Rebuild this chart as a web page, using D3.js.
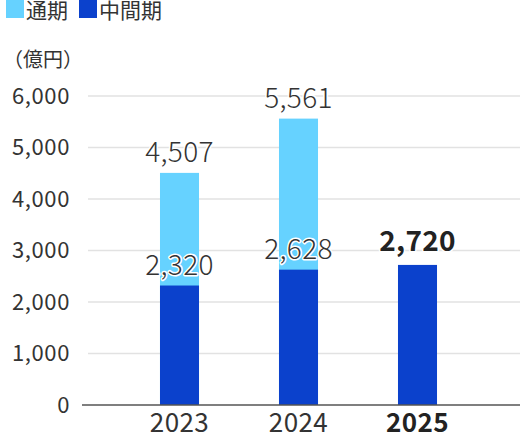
<!DOCTYPE html>
<html><head><meta charset="utf-8">
<script src="https://cdn.jsdelivr.net/npm/d3@7"></script>
<style>body{margin:0;background:#fff}svg{display:block}</style>
</head><body>
<svg id="c" width="520" height="440"></svg>
<script>
const years = ["2023", "2024", "2025"];
const fullYear = [4507, 5561, null];
const interim = [2320, 2628, 2720];
const yTicks = [0, 1000, 2000, 3000, 4000, 5000, 6000];
const legendLabels = ["通期", "中間期"];
const unitLabel = "（億円）";

const C_LIGHT = "#66d2ff", C_DARK = "#0b41cc";
const FONT = "'Noto Sans CJK JP','Noto Sans',sans-serif";
const svg = d3.select("#c");
const x = d3.scaleBand().domain(years).range([120, 477]).paddingInner(0.672).paddingOuter(0.336);
const y = d3.scaleLinear().domain([0, 6000]).range([405, 96]);

// gridlines
svg.append("g").selectAll("line").data(yTicks.filter(d => d > 0)).join("line")
  .attr("x1", 88).attr("x2", 520).attr("y1", d => y(d)).attr("y2", d => y(d))
  .attr("stroke", "#e2e2e2").attr("stroke-width", 1.5);

// y tick labels
svg.append("g").selectAll("text").data(yTicks).join("text")
  .attr("x", 70).attr("y", d => y(d)).attr("dy", "0.36em")
  .attr("text-anchor", "end").attr("font-family", FONT).attr("font-size", 22)
  .attr("letter-spacing", 0.6)
  .attr("fill", "#333").text(d => d3.format(",")(d));

svg.append("text").attr("x", 3).attr("y", 67).attr("font-family", FONT)
  .attr("font-size", 20).attr("fill", "#333").text(unitLabel);

// bars
const rows = years.map((yr, i) => ({yr, full: fullYear[i], mid: interim[i]}));
svg.append("g").selectAll("rect").data(rows.filter(d => d.full != null)).join("rect")
  .attr("x", d => x(d.yr)).attr("width", x.bandwidth())
  .attr("y", d => y(d.full)).attr("height", d => y(0) - y(d.full)).attr("fill", C_LIGHT);
svg.append("g").selectAll("rect").data(rows).join("rect")
  .attr("x", d => x(d.yr)).attr("width", x.bandwidth())
  .attr("y", d => y(d.mid)).attr("height", d => y(0) - y(d.mid)).attr("fill", C_DARK);

// axis line
svg.append("line").attr("x1", 82).attr("x2", 520).attr("y1", y(0)).attr("y2", y(0))
  .attr("stroke", "#555").attr("stroke-width", 1.5);

// x labels
svg.append("g").selectAll("text").data(years).join("text")
  .attr("x", d => x(d) + x.bandwidth() / 2).attr("y", 432)
  .attr("text-anchor", "middle").attr("font-family", FONT).attr("font-size", 26)
  .attr("letter-spacing", 0.4)
  .attr("font-weight", (d, i) => i === 2 ? 700 : 400)
  .attr("fill", (d, i) => i === 2 ? "#222" : "#333").text(d => d);

// value labels
const labels = [];
rows.forEach((d, i) => {
  if (d.full != null) labels.push({yr: d.yr, v: d.full, bold: false});
  labels.push({yr: d.yr, v: d.mid, bold: i === 2});
});
svg.append("g").selectAll("text").data(labels).join("text")
  .attr("x", d => x(d.yr) + x.bandwidth() / 2)
  .attr("y", d => y(d.v) - (d.bold ? 14 : 11))
  .attr("text-anchor", "middle").attr("font-family", FONT).attr("font-size", 28)
  .attr("letter-spacing", 0.3)
  .attr("font-weight", d => d.bold ? 700 : 300)
  .attr("fill", d => d.bold ? "#222" : "#333")
  .attr("stroke", "#fff").attr("stroke-width", 3).attr("paint-order", "stroke")
  .attr("stroke-linejoin", "round")
  .text(d => d3.format(",")(d.v));

// legend
const lg = svg.append("g");
const lx = [6, 79];
legendLabels.forEach((t, i) => {
  lg.append("rect").attr("x", lx[i]).attr("y", 0).attr("width", 18).attr("height", 18)
    .attr("fill", i === 0 ? C_LIGHT : C_DARK);
  lg.append("text").attr("x", lx[i] + 20).attr("y", 18).attr("font-family", FONT)
    .attr("font-size", 21).attr("fill", "#333").text(t);
});
</script>
</body></html>
